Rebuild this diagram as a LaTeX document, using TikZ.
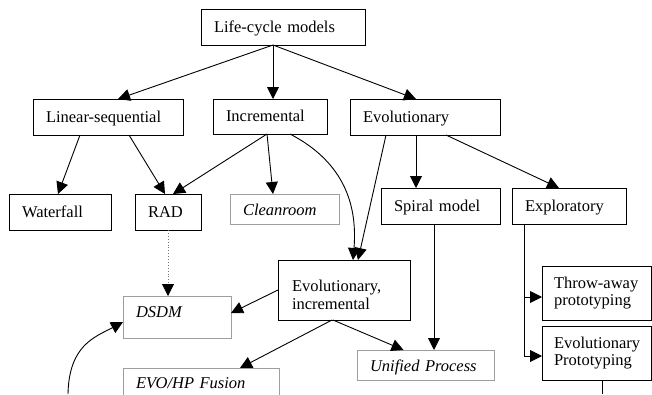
\documentclass[tikz,border=0pt]{standalone}
\usepackage{fontspec}
\setmainfont{Liberation Serif}
\usetikzlibrary{arrows.meta}
\definecolor{softgray}{gray}{0.62}
\definecolor{dotgray}{gray}{0.45}
\begin{document}
\begin{tikzpicture}[x=1pt,y=-1pt,
  box/.style={draw, line width=1pt, rectangle, anchor=north west, inner xsep=13pt, inner ysep=0pt,
    align=left, outer sep=0pt, font=\fontsize{16.5}{17.5}\selectfont},
  soft/.style={box, draw=softgray, font=\fontsize{16.5}{17.5}\selectfont\itshape},
  one/.style={text height=12pt, text depth=2pt},
  onegray/.style={text height=13pt, text depth=1pt},
  mid/.style={text height=8pt, text depth=8pt},
  dim/.style n args={3}{minimum width=#1pt, minimum height=#2pt, text width=#3pt},
  arr/.style={-{Triangle[length=12pt,width=12pt,color=black]}, line width=0.9pt},
  plain/.style={line width=0.9pt},
  dotline/.style={arr, draw=dotgray, dotted, line width=0.8pt}
]
\useasboundingbox (0,0) rectangle (652,394);
\clip (0,0) rectangle (652,394);

% nodes
\node[box,one,dim={164}{36}{138}] (lcm) at (201,9) {Life-cycle models};
\node[box,one,dim={150}{36}{124}] (lin) at (33,99) {Linear-sequential};
\node[box,one,dim={114}{35}{88}] (inc) at (213,99) {Incremental};
\node[box,one,dim={150}{36}{124}] (evo) at (350,99) {Evolutionary};
\node[box,one,dim={102}{36}{76}] (wat) at (9,194) {Waterfall};
\node[box,one,dim={66}{36}{40}] (rad) at (135,194) {RAD};
\node[soft,onegray,dim={109}{30}{83}] (cln) at (230,194) {Cleanroom};
\node[box,one,dim={119}{36}{93}] (spi) at (381,188) {Spiral model};
\node[box,one,dim={114}{36}{88}] (exp) at (512,188) {Exploratory};
\node[box,dim={132}{60}{104},inner xsep=14pt,text depth=8pt] (ei) at (278,260) {Evolutionary,\\incremental};
\node[soft,mid,dim={108}{42}{82}] (dsdm) at (123,296) {DSDM};
\node[soft,mid,dim={156}{40}{130}] (evohp) at (123,368) {EVO/HP Fusion};
\node[soft,onegray,dim={137}{30}{111}] (up) at (357,350) {Unified Process};
\node[box,dim={109}{54}{85},inner xsep=12pt] (ta) at (542,266) {Throw-away\\prototyping};
\node[box,dim={109}{54}{85},inner xsep=12pt] (ep) at (542,326) {Evolutionary\\Prototyping};

\coordinate (offr) at (602,394);
\coordinate (offl) at (68,394);

% connectors
\draw[arr] ([xshift=-10pt]lcm.south) -- ([xshift=10pt]lin.north);
\draw[arr] ([xshift=-10pt]lcm.south) -- ([xshift=3pt]inc.north);
\draw[arr] ([xshift=-10pt]lcm.south) -- ([xshift=-9pt]evo.north);
\draw[arr] ([xshift=-28pt]lin.south) -- ([xshift=-2pt]wat.north);
\draw[arr] ([xshift=21pt]lin.south) -- ([xshift=-3pt]rad.north);
\draw[arr] ([xshift=-3pt]inc.south) -- ([xshift=5pt]rad.north);
\draw[arr] ([xshift=-3pt]inc.south) -- ([xshift=-11.5pt]cln.north);
\draw[arr] ([xshift=20pt]inc.south) .. controls (340,160) and (358,200) .. ([xshift=9pt]ei.north);
\draw[arr] ([xshift=-39pt]evo.south) -- ([xshift=14pt]ei.north);
\draw[arr] ([xshift=-9pt]evo.south) -- ([xshift=-24.5pt]spi.north);
\draw[arr] ([xshift=21pt]evo.south) -- ([xshift=-10pt]exp.north);
\draw[dotline] (rad.south) -- ([xshift=-9pt]dsdm.north);
\draw[arr] (ei.west) -- ([yshift=4pt]dsdm.east);
\draw[arr] ([xshift=-12pt]ei.south) -- ([xshift=39pt]evohp.north);
\draw[arr] ([xshift=-11pt]ei.south) -- ([xshift=-22pt]up.north);
\draw[arr] ([xshift=-6.5pt]spi.south) -- ([xshift=8.5pt]up.north);
\draw[arr] ([xshift=-45pt]exp.south) |- ([yshift=-4pt]ta.west);
\draw[arr] ([xshift=-45pt]exp.south) |- ([yshift=-3pt]ep.west);
\draw[plain] ([xshift=5.5pt]ep.south) -- (offr);
\draw[arr] (offl) .. controls (69,345) and (95,337) .. ([yshift=-5pt]dsdm.west);
\end{tikzpicture}
\end{document}
